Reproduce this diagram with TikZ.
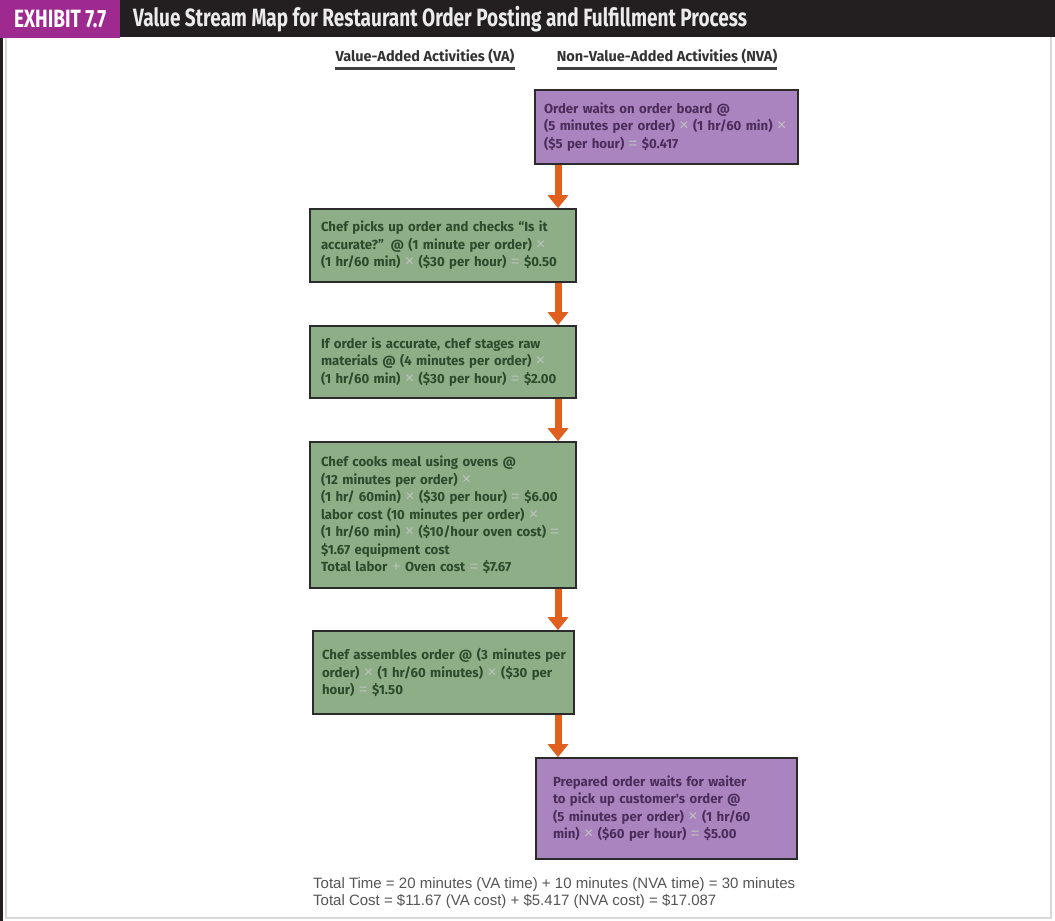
\documentclass[tikz,border=0pt]{standalone}
\usepackage{fontspec}
\usetikzlibrary{arrows.meta}
\setmainfont{Fira Sans}
\newfontfamily\headfont[FakeStretch=0.76]{Fira Sans}
\newfontfamily\boxfont{Fira Sans}
\newfontfamily\footfont{Liberation Sans}
\definecolor{hdrblack}{HTML}{231F20}
\definecolor{magent}{HTML}{9E2A8F}
\definecolor{purpfill}{HTML}{AA84BF}
\definecolor{purptext}{HTML}{4B2D5C}
\definecolor{greenfill}{HTML}{8DAE86}
\definecolor{greentext}{HTML}{2E4A2C}
\definecolor{boxline}{HTML}{2B2B2B}
\definecolor{arroworange}{HTML}{E0601F}
\definecolor{opc}{HTML}{BFC2BE}
\definecolor{foottext}{HTML}{555555}
\definecolor{framegray}{HTML}{D8D8D8}
\newcommand{\X}{{\color{opc}\footfont\mdseries\fontsize{16}{17.5}\selectfont ×}}
\newcommand{\EQ}{{\color{opc}\footfont\mdseries\fontsize{15}{17.5}\selectfont =}}
\newcommand{\PL}{{\color{opc}\footfont\mdseries\fontsize{15}{17.5}\selectfont +}}
\tikzset{
  x=1pt,y=-1pt,
  actbox/.style={draw=boxline, line width=1.6pt, align=left, inner xsep=0pt, inner ysep=0pt,
     font=\boxfont\bfseries\fontsize{13.2}{17.5}\selectfont},
  vabox/.style={actbox, fill=greenfill, text=greentext},
  nvabox/.style={actbox, fill=purpfill, text=purptext},
  flow/.style={draw=arroworange, line width=7pt, -{Triangle[width=20pt,length=13pt]}},
  colhead/.style={font=\boxfont\bfseries\fontsize{14.5}{16}\selectfont, text=black!80, inner sep=0pt},
}
\begin{document}
\begin{tikzpicture}
\useasboundingbox (0,0) rectangle (1055,921);
% frame
\fill[white] (0,0) rectangle (1055,921);
\draw[framegray, line width=2pt] (6,37) -- (6,918) -- (1051,918) -- (1051,37);
\draw[hdrblack, line width=2.5pt] (1.5,37) -- (1.5,921);
% header
\fill[hdrblack] (0,0) rectangle (1055,37);
\node[fill=magent, minimum width=120pt, minimum height=38pt, anchor=north west, inner sep=0pt,
      text=white, font=\headfont\bfseries\fontsize{25}{27}\selectfont] (exh) at (0,0) {EXHIBIT 7.7};
\node[anchor=west, inner sep=0pt, text=white!92!black, font=\headfont\bfseries\fontsize{25}{27}\selectfont]
      (title) at (133,19) {Value Stream Map for Restaurant Order Posting and Fulfillment Process};
% column headers
\node[colhead] (hva) at (425,56) {Value-Added Activities (VA)};
\node[colhead] (hnva) at (667,56) {Non-Value-Added Activities (NVA)};
\draw[black!75, line width=2.2pt] ([yshift=-5pt]hva.south west) -- ([yshift=-5pt]hva.south east);
\draw[black!75, line width=2.2pt] ([yshift=-5pt]hnva.south west) -- ([yshift=-5pt]hnva.south east);
% boxes
\node[nvabox, minimum width=263pt, minimum height=74pt, text width=245pt] (b1) at (666.5,127)
 {Order waits on order board @\\\mbox{(5 minutes per order) \X{} (1 hr/60 min) \X}\\(\$5 per hour) \EQ{} \$0.417};
\node[vabox, minimum width=266pt, minimum height=73pt, text width=244pt] (b2) at (443,245.5)
 {Chef picks up order and checks “Is it\\\mbox{accurate?” @ (1 minute per order) \X}\\\mbox{(1 hr/60 min) \X{} (\$30 per hour) \EQ{} \$0.50}};
\node[vabox, minimum width=266pt, minimum height=72pt, text width=244pt] (b3) at (443,362)
 {If order is accurate, chef stages raw\\\mbox{materials @ (4 minutes per order) \X}\\\mbox{(1 hr/60 min) \X{} (\$30 per hour) \EQ{} \$2.00}};
\node[vabox, minimum width=266pt, minimum height=146pt, text width=244pt] (b4) at (443,515)
 {Chef cooks meal using ovens @\\(12 minutes per order) \X\\\mbox{(1 hr/ 60min) \X{} (\$30 per hour) \EQ{} \$6.00}\\\mbox{labor cost (10 minutes per order) \X}\\\mbox{(1 hr/60 min) \X{} (\$10/hour oven cost) \EQ}\\\$1.67 equipment cost\\Total labor \PL{} Oven cost \EQ{} \$7.67};
\node[vabox, minimum width=261pt, minimum height=83pt, text width=243pt] (b5) at (443.5,672.5)
 {\mbox{Chef assembles order @ (3 minutes per}\\\mbox{order) \X{} (1 hr/60 minutes) \X{} (\$30 per}\\hour) \EQ{} \$1.50};
\node[nvabox, minimum width=261pt, minimum height=101pt, text width=227pt] (b6) at (666.5,808.5)
 {Prepared order waits for waiter\\to pick up customer's order @\\\mbox{(5 minutes per order) \X{} (1 hr/60}\\\mbox{min) \X{} (\$60 per hour) \EQ{} \$5.00}};
% arrows
\coordinate (ax) at (558,0);
\draw[flow] (b1.south -| ax) -- (b2.north -| ax);
\draw[flow] (b2.south -| ax) -- (b3.north -| ax);
\draw[flow] (b3.south -| ax) -- (b4.north -| ax);
\draw[flow] (b4.south -| ax) -- (b5.north -| ax);
\draw[flow] (b5.south -| ax) -- (b6.north -| ax);
% footer
\node[anchor=north west, align=left, inner sep=0pt, text=foottext, font=\footfont\fontsize{15}{17}\selectfont] (foot) at (313,877)
 {Total Time = 20 minutes (VA time) + 10 minutes (NVA time) = 30 minutes\\Total Cost = \$11.67 (VA cost) + \$5.417 (NVA cost) = \$17.087};
\end{tikzpicture}
\end{document}
